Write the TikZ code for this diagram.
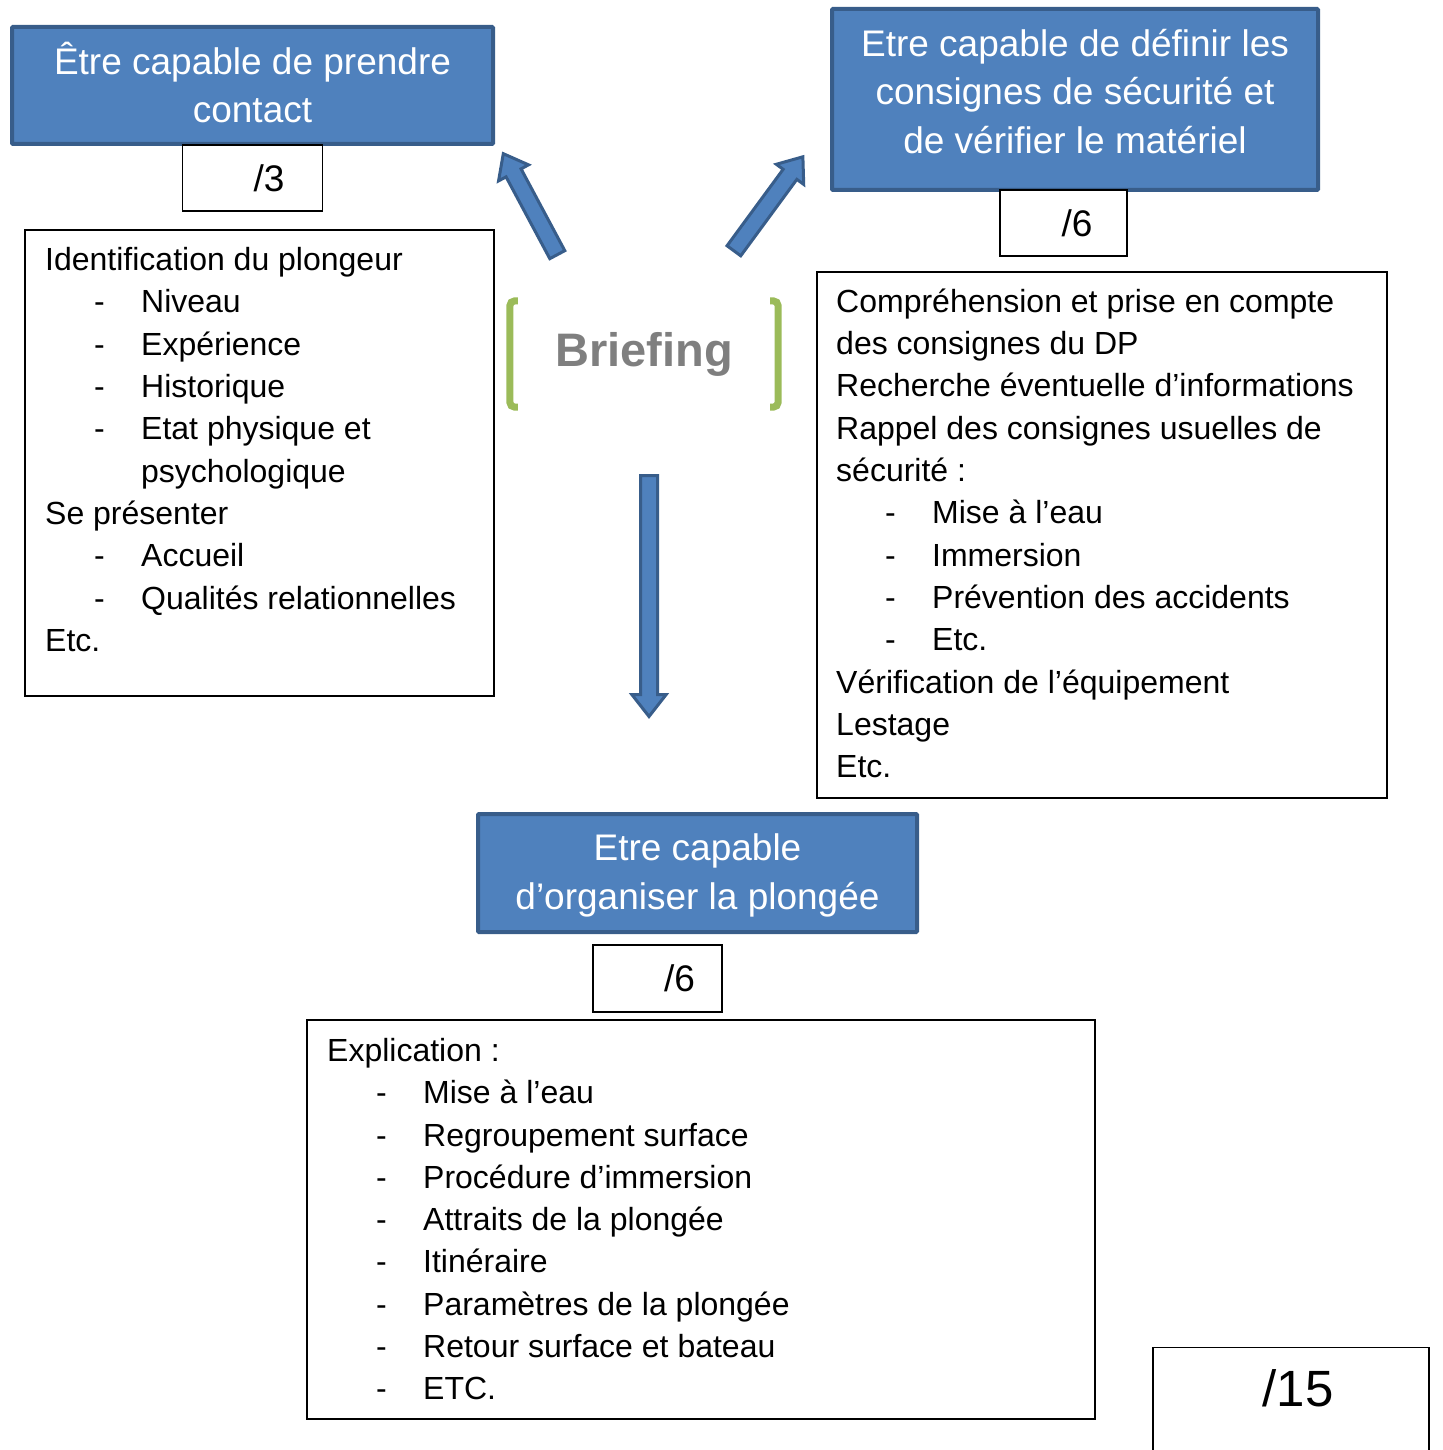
\documentclass[tikz,border=0pt]{standalone}
\usepackage{fontspec}
\setmainfont{Liberation Sans}
\usetikzlibrary{calc,shapes.arrows,positioning}

\definecolor{goalfill}{HTML}{4F81BD}
\definecolor{goalline}{HTML}{385D8A}
\definecolor{bracketgreen}{HTML}{9BBB59}
\definecolor{briefgray}{HTML}{7F7F7F}

\newcommand\listfont{\fontsize{32}{42.3}\selectfont}
\newcommand\goalfont{\fontsize{37}{48.5}\selectfont}
\newcommand\markfont{\fontsize{37}{44}\selectfont}
\newcommand\brieffont{\fontsize{47}{56}\selectfont\bfseries}
\newcommand\totalfont{\fontsize{51}{60}\selectfont}
% tiret + texte de la liste
\newcommand\itm[1]{\hspace*{49pt}\makebox[47pt][l]{-}#1}
\newcommand\cont[1]{\hspace*{96pt}#1}

\tikzset{
  goalbox/.style={draw=goalline, fill=goalfill, line width=4pt, text=white, align=center,
                  font=\goalfont, inner sep=0pt, rounded corners=1pt},
  markbox/.style={draw, fill=white, line width=1.3pt, font=\markfont, inner sep=0pt},
  listbox/.style={draw, line width=1.3pt, inner sep=0pt},
  listtext/.style={anchor=north west, align=left, inner sep=0pt, font=\listfont},
  brief/.style={font=\brieffont, text=briefgray, inner sep=0pt,
                minimum width=268pt, minimum height=106pt},
  bracket/.style={draw=bracketgreen, line width=7pt, rounded corners=5pt},
  blockarr/.style={single arrow, draw=goalline, fill=goalfill, line width=3pt, inner sep=7pt,
                   minimum width=0pt, single arrow head extend=8.5pt,
                   single arrow tip angle=76, line join=miter}
}

% grosse fleche entre deux points
\newcommand\blockarrow[2]{%
  \path let \p1=($(#2)-(#1)$), \n1={atan2(\y1,\x1)}, \n2={veclen(\x1,\y1)} in
    node[blockarr, anchor=tail, rotate=\n1, minimum height=\n2] at (#1) {};}

\begin{document}
\begin{tikzpicture}[x=1pt, y=-1pt]
  \useasboundingbox (0,0) rectangle (1442,1450);
  \clip (0,0) rectangle (1442,1450);

  % objectifs
  \node[goalbox, minimum width=481pt, minimum height=117pt, text depth=6pt] (contact)
    at (252.5,85.5) {Être capable de prendre\\contact};
  \node[goalbox, minimum width=486pt, minimum height=181pt, text depth=17pt] (securite)
    at (1075,99.5) {Etre capable de définir les\\consignes de sécurité et\\de vérifier le matériel};
  \node[goalbox, minimum width=439pt, minimum height=118pt, text depth=3pt] (organiser)
    at (697.5,873) {Etre capable\\d’organiser la plongée};

  % notes
  \node[markbox, minimum width=140pt, minimum height=66pt, below=-1.6pt of contact] (markcontact)
    {\hspace*{33pt}/3};
  \node[markbox, minimum width=127pt, minimum height=66pt] (marksecurite)
    at (1063.5,223) {\hspace*{27pt}/6};
  \node[markbox, minimum width=129pt, minimum height=67pt] (markorganiser)
    at (657.5,978.5) {\hspace*{44pt}/6};
  \node[markbox, anchor=north, minimum width=276pt, minimum height=140pt] (total)
    at (1291,1347) {};
  \node[font=\totalfont, anchor=base, inner sep=0pt] (totalmark)
    at ($(total.north)+(7,59)$) {/15};

  % contenus
  \node[listbox, minimum width=469pt, minimum height=466pt] (contactlist) at (259.5,463) {};
  \node[listtext] (contacttext) at (45,240.8) {\strut Identification du plongeur\\
    \itm{Niveau}\\ \itm{Expérience}\\ \itm{Historique}\\ \itm{Etat physique et}\\
    \cont{psychologique}\\ Se présenter\\ \itm{Accueil}\\ \itm{Qualités relationnelles}\\ Etc.};

  \node[listbox, minimum width=570pt, minimum height=526pt] (securitelist) at (1102,535) {};
  \node[listtext] (securitetext) at (836,282.5) {\strut Compréhension et prise en compte\\
    des consignes du DP\\ Recherche éventuelle d’informations\\ Rappel des consignes usuelles de\\
    sécurité :\\ \itm{Mise à l’eau}\\ \itm{Immersion}\\ \itm{Prévention des accidents}\\
    \itm{Etc.}\\ Vérification de l’équipement\\ Lestage\\ Etc.};

  \node[listbox, minimum width=788pt, minimum height=399pt] (organiserlist) at (701,1219.5) {};
  \node[listtext] (organisertext) at (327,1031.6) {\strut Explication :\\
    \itm{Mise à l’eau}\\ \itm{Regroupement surface}\\ \itm{Procédure d’immersion}\\
    \itm{Attraits de la plongée}\\ \itm{Itinéraire}\\ \itm{Paramètres de la plongée}\\
    \itm{Retour surface et bateau}\\ \itm{ETC.}};

  % briefing
  \node[brief] (briefing) at (644,354) {Briefing};
  \draw[bracket] ([xshift=8pt]briefing.north west) -- (briefing.north west)
    -- (briefing.south west) -- ([xshift=8pt]briefing.south west);
  \draw[bracket] ([xshift=-8pt]briefing.north east) -- (briefing.north east)
    -- (briefing.south east) -- ([xshift=-8pt]briefing.south east);

  % fleches
  \coordinate (contacttail) at (558,256);
  \coordinate (contacttip) at (504,155);
  \coordinate (securitetail) at (733,252);
  \coordinate (securitetip) at (802,158);
  \coordinate (organisertail) at (649,474);
  \coordinate (organisertip) at (649,715);
  \blockarrow{contacttail}{contacttip}
  \blockarrow{securitetail}{securitetip}
  \blockarrow{organisertail}{organisertip}
\end{tikzpicture}
\end{document}
